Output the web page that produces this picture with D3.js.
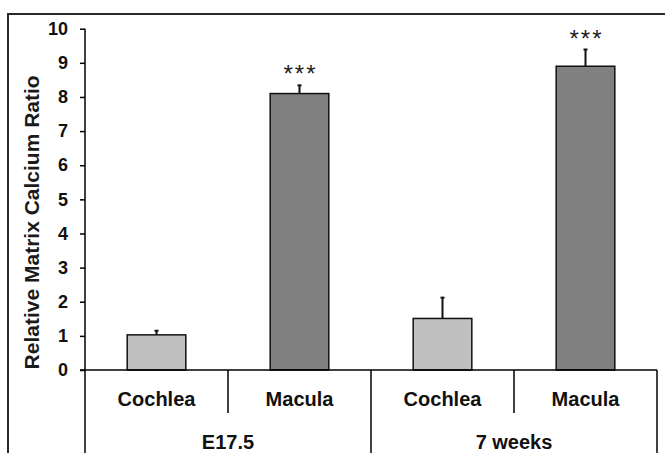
<!DOCTYPE html>
<html>
<head>
<meta charset="utf-8">
<script src="https://cdn.jsdelivr.net/npm/d3@7"></script>
<style>
  body { margin: 0; background: #fff; }
  svg { display: block; font-family: Arial, "Liberation Sans", sans-serif; }
</style>
</head>
<body>
<div id="chart"></div>
<script>
// data
const tissues = ["Cochlea", "Macula", "Cochlea", "Macula"];
const ages = ["E17.5", "7 weeks"];
const ratio = [1.03, 8.1, 1.51, 8.9];
const errUp = [0.12, 0.24, 0.61, 0.49];
const stars = ["", "***", "", "***"];
const yTicks = [0, 1, 2, 3, 4, 5, 6, 7, 8, 9, 10];

const width = 665;
const height = 453;
const lightGray = "#c0c0c0";
const darkGray = "#808080";

const svg = d3.select("#chart")
  .append("svg")
  .attr("width", width)
  .attr("height", height);

// outer frame
svg.append("rect")
  .attr("x", 8)
  .attr("y", 14)
  .attr("width", width + 20)
  .attr("height", height + 20)
  .attr("fill", "none")
  .attr("stroke", "#2a2a2a")
  .attr("stroke-width", 2);

const x = d3.scaleBand()
  .domain(d3.range(tissues.length))
  .range([85, 657]);

const y = d3.scaleLinear()
  .domain([0, 10])
  .range([370, 28.7]);

const barW = x.bandwidth() * 0.41;

// y axis
const yAxis = svg.append("g")
  .attr("transform", "translate(85,0)")
  .call(d3.axisLeft(y).tickValues(yTicks).tickSize(5).tickPadding(12));
yAxis.select(".domain").remove();
yAxis.selectAll(".tick line").attr("stroke", "#000").attr("stroke-width", 1.5);
yAxis.selectAll(".tick text")
  .attr("fill", "#111")
  .style("font-size", "18px")
  .style("font-weight", "bold");

svg.append("line")
  .attr("x1", 85).attr("x2", 85)
  .attr("y1", y(10)).attr("y2", height)
  .attr("stroke", "#000").attr("stroke-width", 1.5);

// y title
svg.append("text")
  .attr("transform", `translate(39,${(y(0) + y(10)) / 2 + 23}) rotate(-90)`)
  .attr("text-anchor", "middle")
  .style("font-size", "21px")
  .style("font-weight", "bold")
  .attr("fill", "#1a1a1a")
  .text("Relative Matrix Calcium Ratio");

// bars
svg.selectAll(".bar")
  .data(ratio)
  .enter()
  .append("rect")
  .attr("class", "bar")
  .attr("x", (d, i) => x(i) + (x.bandwidth() - barW) / 2)
  .attr("y", (d) => y(d))
  .attr("width", barW)
  .attr("height", (d) => y(0) - y(d))
  .attr("fill", (d, i) => (i % 2 === 0 ? lightGray : darkGray))
  .attr("stroke", "#111")
  .attr("stroke-width", 1.5);

// error bars (upper only)
const cx = (i) => x(i) + x.bandwidth() / 2;
svg.selectAll(".err")
  .data(ratio)
  .enter()
  .append("line")
  .attr("class", "err")
  .attr("x1", (d, i) => cx(i)).attr("x2", (d, i) => cx(i))
  .attr("y1", (d) => y(d))
  .attr("y2", (d, i) => y(d + errUp[i]))
  .attr("stroke", "#111").attr("stroke-width", 2);
svg.selectAll(".cap")
  .data(ratio)
  .enter()
  .append("line")
  .attr("class", "cap")
  .attr("x1", (d, i) => cx(i) - 2).attr("x2", (d, i) => cx(i) + 2)
  .attr("y1", (d, i) => y(d + errUp[i]))
  .attr("y2", (d, i) => y(d + errUp[i]))
  .attr("stroke", "#111").attr("stroke-width", 2);

// significance
svg.selectAll(".sig")
  .data(stars)
  .enter()
  .append("text")
  .attr("class", "sig")
  .attr("x", (d, i) => cx(i) + 1)
  .attr("y", (d, i) => y(ratio[i] + errUp[i]) - 3)
  .attr("text-anchor", "middle")
  .style("font-size", "24px")
  .style("letter-spacing", "2px")
  .attr("fill", "#222")
  .text((d) => d);

// category axis
svg.append("line")
  .attr("x1", 80).attr("x2", 657)
  .attr("y1", y(0)).attr("y2", y(0))
  .attr("stroke", "#000").attr("stroke-width", 1.5);

// short dividers between tissues, long ones between ages
const dividers = d3.range(1, tissues.length + 1).map((i) => ({
  xp: i < tissues.length ? x(i) : x.range()[1],
  long: i % 2 === 0,
}));
svg.selectAll(".div")
  .data(dividers)
  .enter()
  .append("line")
  .attr("x1", (d) => d.xp).attr("x2", (d) => d.xp)
  .attr("y1", y(0))
  .attr("y2", (d) => (d.long ? height : 413))
  .attr("stroke", "#000").attr("stroke-width", 1.5);

svg.selectAll(".tissue")
  .data(tissues)
  .enter()
  .append("text")
  .attr("x", (d, i) => cx(i))
  .attr("y", 406)
  .attr("text-anchor", "middle")
  .style("font-size", "20px")
  .style("font-weight", "bold")
  .attr("fill", "#111")
  .text((d) => d);

svg.selectAll(".age")
  .data(ages)
  .enter()
  .append("text")
  .attr("x", (d, i) => (x(i * 2) + x(i * 2 + 1) + x.bandwidth()) / 2)
  .attr("y", 449)
  .attr("text-anchor", "middle")
  .style("font-size", "20px")
  .style("font-weight", "bold")
  .attr("fill", "#111")
  .text((d) => d);
</script>
</body>
</html>
